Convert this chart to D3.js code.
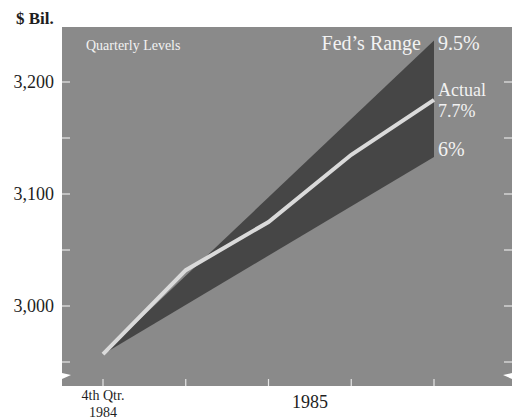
<!DOCTYPE html>
<html>
<head>
<meta charset="utf-8">
<script src="https://cdn.jsdelivr.net/npm/d3@7"></script>
<style>
  body { margin: 0; background: #fff; }
  text { font-family: "Liberation Serif", "DejaVu Serif", serif; }
</style>
</head>
<body>
<svg width="512" height="419"></svg>
<script>
// quarters and values ($ billions)
let quarters = ["4Q84", "1Q85", "2Q85", "3Q85", "4Q85"];
let actual = [2957, 3032, 3075, 3135, 3184];
let rangeQuarters = ["4Q84", "4Q85"];
let rangeLow = [2957, 3133];
let rangeHigh = [2957, 3237];
let yTicks = [2950, 3000, 3050, 3100, 3150, 3200, 3250];
let yLabels = [3000, 3100, 3200];

let svg = d3.select("svg");

let panel = {left: 62, right: 512, top: 27, bottom: 386};

let x = d3.scalePoint().domain(quarters).range([103, 434]);
let y = d3.scaleLinear().domain([3000, 3200]).range([306, 82]);

// grey panel
svg.append("rect")
    .attr("x", panel.left).attr("y", panel.top)
    .attr("width", panel.right - panel.left)
    .attr("height", panel.bottom - panel.top)
    .attr("fill", "#8a8a8a");

// axis break wedges
svg.append("path")
    .attr("d", `M${panel.left},373 L${panel.left + 9},375 L${panel.left},379 Z`)
    .attr("fill", "#fff");
svg.append("path")
    .attr("d", `M${panel.right},373 L${panel.right - 9},375 L${panel.right},379 Z`)
    .attr("fill", "#fff");

// y ticks on both sides
let tickG = svg.append("g").attr("stroke", "#e6e6e6").attr("stroke-width", 1.2);
yTicks.filter(d => y(d) > panel.top && y(d) < panel.bottom - 10).forEach(d => {
    tickG.append("line").attr("x1", panel.left).attr("x2", panel.left + 8)
        .attr("y1", y(d)).attr("y2", y(d));
    tickG.append("line").attr("x1", panel.right - 8).attr("x2", panel.right)
        .attr("y1", y(d)).attr("y2", y(d));
});

// x ticks
quarters.forEach(q => {
    tickG.append("line").attr("x1", x(q)).attr("x2", x(q))
        .attr("y1", panel.bottom - 7).attr("y2", panel.bottom);
});

// y labels
svg.append("g").selectAll("text")
    .data(yLabels).enter()
    .append("text")
    .attr("x", 54).attr("y", d => y(d) + 6)
    .attr("text-anchor", "end")
    .attr("font-size", 18)
    .attr("fill", "#1e1e1e")
    .text(d => d3.format(",")(d));

svg.append("text")
    .attr("x", 16).attr("y", 24)
    .attr("font-size", 17).attr("font-weight", "bold")
    .attr("fill", "#1e1e1e")
    .text("$ Bil.");

// Fed's range band
let band = rangeQuarters.map((q, i) => ({q: q, lo: rangeLow[i], hi: rangeHigh[i]}));
let area = d3.area()
    .x(d => x(d.q))
    .y0(d => y(d.lo))
    .y1(d => y(d.hi));
svg.append("path")
    .datum(band)
    .attr("d", area)
    .attr("fill", "#464646");

// actual line
let line = d3.line()
    .x((d, i) => x(quarters[i]))
    .y(d => y(d));
svg.append("path")
    .datum(actual)
    .attr("d", line)
    .attr("fill", "none")
    .attr("stroke", "#dadada")
    .attr("stroke-width", 4);

// panel labels
let lbl = svg.append("g").attr("fill", "#f2f2f2");
lbl.append("text").attr("x", 86).attr("y", 50).attr("font-size", 14)
    .text("Quarterly Levels");
lbl.append("text").attr("x", 421).attr("y", 50).attr("font-size", 20)
    .attr("text-anchor", "end").text("Fed’s Range");
let xEnd = x(quarters[quarters.length - 1]) + 4;
lbl.append("text").attr("x", xEnd).attr("y", 50).attr("font-size", 20).text("9.5%");
lbl.append("text").attr("x", xEnd).attr("y", 96).attr("font-size", 18).text("Actual");
lbl.append("text").attr("x", xEnd).attr("y", 117).attr("font-size", 18).text("7.7%");
lbl.append("text").attr("x", xEnd).attr("y", 156).attr("font-size", 20).text("6%");

// x labels
svg.append("text").attr("x", x(quarters[0])).attr("y", 400)
    .attr("text-anchor", "middle").attr("font-size", 14)
    .attr("fill", "#1e1e1e").text("4th Qtr.");
svg.append("text").attr("x", x(quarters[0])).attr("y", 417)
    .attr("text-anchor", "middle").attr("font-size", 14)
    .attr("fill", "#1e1e1e").text("1984");
svg.append("text").attr("x", (x(quarters[2]) + x(quarters[3])) / 2).attr("y", 408)
    .attr("text-anchor", "middle").attr("font-size", 18)
    .attr("fill", "#1e1e1e").text("1985");
</script>
</body>
</html>
